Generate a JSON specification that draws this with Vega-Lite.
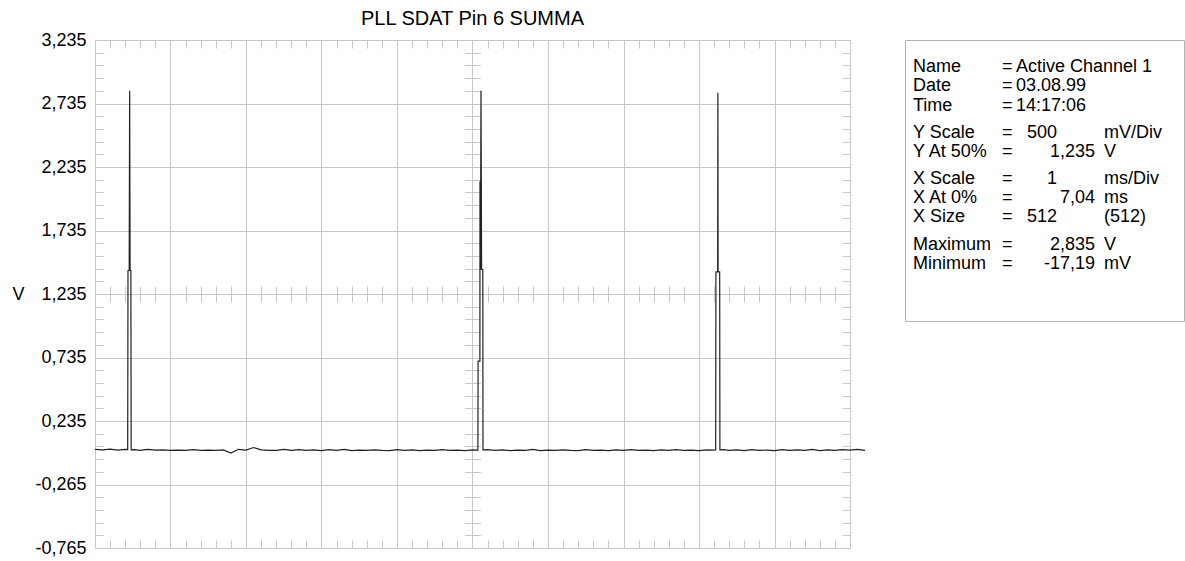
{
  "$schema": "https://vega.github.io/schema/vega-lite/v6.json",
  "background": "white",
  "padding": {"left": 11, "top": 8, "right": 0, "bottom": 0},
  "bounds": "flush",
  "spacing": 55,
  "config": {"font": "Liberation Sans"},
  "datasets": {
    "trace": [
      {"t": 7.04, "v": 0.012}, {"t": 7.14, "v": 0.008}, {"t": 7.24, "v": 0.014}, {"t": 7.34, "v": 0.006}, {"t": 7.44, "v": 0.012},
      {"t": 7.473, "v": 0.010}, {"t": 7.477, "v": 1.42}, {"t": 7.493, "v": 1.42}, {"t": 7.499, "v": 2.835}, {"t": 7.505, "v": 1.42}, {"t": 7.515, "v": 1.42}, {"t": 7.519, "v": 0.008},
      {"t": 7.56, "v": 0.010}, {"t": 7.64, "v": 0.004}, {"t": 7.74, "v": 0.012}, {"t": 7.84, "v": 0.006}, {"t": 7.94, "v": 0.008},
      {"t": 8.04, "v": 0.004}, {"t": 8.14, "v": 0.006}, {"t": 8.24, "v": 0.004}, {"t": 8.34, "v": 0.010}, {"t": 8.44, "v": 0.004},
      {"t": 8.54, "v": 0.006}, {"t": 8.64, "v": 0.004}, {"t": 8.74, "v": 0.008}, {"t": 8.84, "v": -0.017}, {"t": 8.94, "v": 0.012},
      {"t": 9.04, "v": 0.006}, {"t": 9.14, "v": 0.026}, {"t": 9.24, "v": 0.008}, {"t": 9.34, "v": 0.004}, {"t": 9.44, "v": 0.004},
      {"t": 9.54, "v": 0.012}, {"t": 9.64, "v": 0.004}, {"t": 9.74, "v": 0.010}, {"t": 9.84, "v": 0.004}, {"t": 9.94, "v": 0.008},
      {"t": 10.04, "v": 0.002}, {"t": 10.14, "v": 0.010}, {"t": 10.24, "v": 0.004}, {"t": 10.34, "v": 0.012}, {"t": 10.44, "v": 0.002},
      {"t": 10.54, "v": 0.006}, {"t": 10.64, "v": 0.004}, {"t": 10.74, "v": 0.008}, {"t": 10.84, "v": 0.004}, {"t": 10.94, "v": 0.002},
      {"t": 11.04, "v": 0.010}, {"t": 11.14, "v": 0.004}, {"t": 11.24, "v": 0.008}, {"t": 11.34, "v": 0.002}, {"t": 11.44, "v": 0.006},
      {"t": 11.54, "v": 0.004}, {"t": 11.64, "v": 0.010}, {"t": 11.74, "v": 0.004}, {"t": 11.84, "v": 0.006}, {"t": 11.94, "v": 0.002},
      {"t": 12.04, "v": 0.008},
      {"t": 12.1115, "v": 0.006}, {"t": 12.1141, "v": 0.706}, {"t": 12.1379, "v": 0.706}, {"t": 12.1393, "v": 2.123}, {"t": 12.1446, "v": 1.428},
      {"t": 12.1526, "v": 2.835}, {"t": 12.1605, "v": 1.428}, {"t": 12.1764, "v": 1.428}, {"t": 12.179, "v": 0.008},
      {"t": 12.24, "v": 0.010}, {"t": 12.34, "v": 0.004}, {"t": 12.44, "v": 0.008}, {"t": 12.54, "v": 0.002}, {"t": 12.64, "v": 0.006},
      {"t": 12.74, "v": 0.004}, {"t": 12.84, "v": 0.012}, {"t": 12.94, "v": 0.002}, {"t": 13.04, "v": 0.006}, {"t": 13.14, "v": 0.004},
      {"t": 13.24, "v": 0.008}, {"t": 13.34, "v": 0.004}, {"t": 13.44, "v": 0.002}, {"t": 13.54, "v": 0.010}, {"t": 13.64, "v": 0.004},
      {"t": 13.74, "v": 0.006}, {"t": 13.84, "v": 0.002}, {"t": 13.94, "v": 0.008}, {"t": 14.04, "v": 0.004}, {"t": 14.14, "v": 0.010},
      {"t": 14.24, "v": 0.004}, {"t": 14.34, "v": 0.006}, {"t": 14.44, "v": 0.002}, {"t": 14.54, "v": 0.008}, {"t": 14.64, "v": 0.004},
      {"t": 14.74, "v": 0.010}, {"t": 14.84, "v": 0.004}, {"t": 14.94, "v": 0.006}, {"t": 15.04, "v": 0.002}, {"t": 15.14, "v": 0.008},
      {"t": 15.22, "v": 0.006},
      {"t": 15.261, "v": 0.008}, {"t": 15.264, "v": 1.41}, {"t": 15.287, "v": 1.41}, {"t": 15.29, "v": 2.82}, {"t": 15.293, "v": 1.41}, {"t": 15.314, "v": 1.41}, {"t": 15.317, "v": 0.008},
      {"t": 15.36, "v": 0.010}, {"t": 15.44, "v": 0.004}, {"t": 15.54, "v": 0.008}, {"t": 15.64, "v": 0.002}, {"t": 15.74, "v": 0.010},
      {"t": 15.84, "v": 0.004}, {"t": 15.94, "v": 0.006}, {"t": 16.04, "v": 0.002}, {"t": 16.14, "v": 0.010}, {"t": 16.24, "v": 0.004},
      {"t": 16.34, "v": 0.008}, {"t": 16.44, "v": 0.004}, {"t": 16.54, "v": 0.012}, {"t": 16.64, "v": 0.002}, {"t": 16.74, "v": 0.008},
      {"t": 16.84, "v": 0.004}, {"t": 16.94, "v": 0.010}, {"t": 17.04, "v": 0.006}, {"t": 17.14, "v": 0.012}, {"t": 17.24, "v": 0.004}
    ],
    "info": [
      {"row": 1, "col": 0, "txt": "Name"}, {"row": 1, "col": 1, "txt": "="}, {"row": 1, "col": 2, "txt": "Active Channel 1"},
      {"row": 2, "col": 0, "txt": "Date"}, {"row": 2, "col": 1, "txt": "="}, {"row": 2, "col": 2, "txt": "03.08.99"},
      {"row": 3, "col": 0, "txt": "Time"}, {"row": 3, "col": 1, "txt": "="}, {"row": 3, "col": 2, "txt": "14:17:06"},
      {"row": 4, "col": 0, "txt": "Y Scale"}, {"row": 4, "col": 1, "txt": "="}, {"row": 4, "col": 3, "txt": "500"}, {"row": 4, "col": 5, "txt": "mV/Div"},
      {"row": 5, "col": 0, "txt": "Y At 50%"}, {"row": 5, "col": 1, "txt": "="}, {"row": 5, "col": 4, "txt": "1,235"}, {"row": 5, "col": 5, "txt": "V"},
      {"row": 6, "col": 0, "txt": "X Scale"}, {"row": 6, "col": 1, "txt": "="}, {"row": 6, "col": 3, "txt": "1"}, {"row": 6, "col": 5, "txt": "ms/Div"},
      {"row": 7, "col": 0, "txt": "X At 0%"}, {"row": 7, "col": 1, "txt": "="}, {"row": 7, "col": 4, "txt": "7,04"}, {"row": 7, "col": 5, "txt": "ms"},
      {"row": 8, "col": 0, "txt": "X Size"}, {"row": 8, "col": 1, "txt": "="}, {"row": 8, "col": 3, "txt": "512"}, {"row": 8, "col": 5, "txt": "(512)"},
      {"row": 9, "col": 0, "txt": "Maximum"}, {"row": 9, "col": 1, "txt": "="}, {"row": 9, "col": 4, "txt": "2,835"}, {"row": 9, "col": 5, "txt": "V"},
      {"row": 10, "col": 0, "txt": "Minimum"}, {"row": 10, "col": 1, "txt": "="}, {"row": 10, "col": 4, "txt": "-17,19"}, {"row": 10, "col": 5, "txt": "mV"}
    ]
  },
  "hconcat": [
    {
      "width": 755,
      "height": 508,
      "title": {"text": "PLL SDAT Pin 6 SUMMA", "fontSize": 20, "fontWeight": "normal", "color": "#000000", "font": "Liberation Sans", "offset": 2.5},
      "data": {"name": "trace"},
      "view": {"stroke": "#c8c8c8"},
      "resolve": {"axis": {"x": "independent", "y": "independent"}},
      "layer": [
        {
          "mark": {"type": "line", "color": "#222222", "strokeWidth": 1.2},
          "encoding": {
            "x": {
              "field": "t", "type": "quantitative",
              "scale": {"domain": [7.04, 17.04], "nice": false, "zero": false},
              "axis": {
                "orient": "bottom", "title": null, "labels": false, "domain": false,
                "values": [7.04,7.24,7.44,7.64,7.84,8.04,8.24,8.44,8.64,8.84,9.04,9.24,9.44,9.64,9.84,10.04,10.24,10.44,10.64,10.84,11.04,11.24,11.44,11.64,11.84,12.04,12.24,12.44,12.64,12.84,13.04,13.24,13.44,13.64,13.84,14.04,14.24,14.44,14.64,14.84,15.04,15.24,15.44,15.64,15.84,16.04,16.24,16.44,16.64,16.84,17.04],
                "ticks": true, "tickSize": -8, "tickColor": "#c8c8c8",
                "grid": true, "gridColor": "#c8c8c8",
                "gridOpacity": {"condition": {"test": "abs(datum.value - 7.04 - round(datum.value - 7.04)) < 0.001", "value": 1}, "value": 0}
              }
            },
            "y": {
              "field": "v", "type": "quantitative",
              "scale": {"domain": [-0.765, 3.235], "nice": false, "zero": false},
              "axis": {
                "orient": "left", "domain": false,
                "values": [-0.765,-0.665,-0.565,-0.465,-0.365,-0.265,-0.165,-0.065,0.035,0.135,0.235,0.335,0.435,0.535,0.635,0.735,0.835,0.935,1.035,1.135,1.235,1.335,1.435,1.535,1.635,1.735,1.835,1.935,2.035,2.135,2.235,2.335,2.435,2.535,2.635,2.735,2.835,2.935,3.035,3.135,3.235],
                "ticks": true, "tickSize": -8, "tickColor": "#c8c8c8",
                "grid": true, "gridColor": "#c8c8c8",
                "gridOpacity": {"condition": {"test": "abs((datum.value + 0.765) / 0.5 - round((datum.value + 0.765) / 0.5)) < 0.001", "value": 1}, "value": 0},
                "labelExpr": "abs((datum.value + 0.765) / 0.5 - round((datum.value + 0.765) / 0.5)) < 0.001 ? replace(replace(format(datum.value, '.3f'), '.', ','), '\u2212', '-') : ''",
                "labelFont": "Liberation Sans", "labelFontSize": 18, "labelColor": "#000000",
                "labelPadding": 17, "labelOverlap": false, "labelBound": false, "labelFlush": false,
                "title": "V", "titleAngle": 0, "titleAlign": "right", "titleBaseline": "middle",
                "titleFont": "Liberation Sans", "titleFontSize": 18, "titleFontWeight": "normal", "titleColor": "#000000",
                "titlePadding": 11
              }
            }
          }
        },
        {
          "mark": {"type": "line", "opacity": 0},
          "encoding": {
            "x": {
              "field": "t", "type": "quantitative",
              "scale": {"domain": [7.04, 17.04], "nice": false, "zero": false},
              "axis": {
                "orient": "top", "title": null, "labels": false, "domain": false, "grid": false,
                "values": [7.04,7.24,7.44,7.64,7.84,8.04,8.24,8.44,8.64,8.84,9.04,9.24,9.44,9.64,9.84,10.04,10.24,10.44,10.64,10.84,11.04,11.24,11.44,11.64,11.84,12.04,12.24,12.44,12.64,12.84,13.04,13.24,13.44,13.64,13.84,14.04,14.24,14.44,14.64,14.84,15.04,15.24,15.44,15.64,15.84,16.04,16.24,16.44,16.64,16.84,17.04],
                "ticks": true, "tickSize": -8, "tickColor": "#c8c8c8"
              }
            },
            "y": {
              "field": "v", "type": "quantitative",
              "scale": {"domain": [-0.765, 3.235], "nice": false, "zero": false},
              "axis": {
                "orient": "right", "title": null, "labels": false, "domain": false, "grid": false,
                "values": [-0.765,-0.665,-0.565,-0.465,-0.365,-0.265,-0.165,-0.065,0.035,0.135,0.235,0.335,0.435,0.535,0.635,0.735,0.835,0.935,1.035,1.135,1.235,1.335,1.435,1.535,1.635,1.735,1.835,1.935,2.035,2.135,2.235,2.335,2.435,2.535,2.635,2.735,2.835,2.935,3.035,3.135,3.235],
                "ticks": true, "tickSize": -8, "tickColor": "#c8c8c8"
              }
            }
          }
        },
        {
          "mark": {"type": "line", "opacity": 0},
          "encoding": {
            "x": {
              "field": "t", "type": "quantitative",
              "scale": {"domain": [7.04, 17.04], "nice": false, "zero": false},
              "axis": {
                "orient": "bottom", "offset": -262, "title": null, "labels": false, "domain": false, "grid": false,
                "values": [7.04,7.24,7.44,7.64,7.84,8.04,8.24,8.44,8.64,8.84,9.04,9.24,9.44,9.64,9.84,10.04,10.24,10.44,10.64,10.84,11.04,11.24,11.44,11.64,11.84,12.04,12.24,12.44,12.64,12.84,13.04,13.24,13.44,13.64,13.84,14.04,14.24,14.44,14.64,14.84,15.04,15.24,15.44,15.64,15.84,16.04,16.24,16.44,16.64,16.84,17.04],
                "ticks": true, "tickSize": 16, "tickColor": "#c8c8c8"
              }
            },
            "y": {
              "field": "v", "type": "quantitative",
              "scale": {"domain": [-0.765, 3.235], "nice": false, "zero": false},
              "axis": {
                "orient": "left", "offset": -385.5, "title": null, "labels": false, "domain": false, "grid": false,
                "values": [-0.765,-0.665,-0.565,-0.465,-0.365,-0.265,-0.165,-0.065,0.035,0.135,0.235,0.335,0.435,0.535,0.635,0.735,0.835,0.935,1.035,1.135,1.235,1.335,1.435,1.535,1.635,1.735,1.835,1.935,2.035,2.135,2.235,2.335,2.435,2.535,2.635,2.735,2.835,2.935,3.035,3.135,3.235],
                "ticks": true, "tickSize": 16, "tickColor": "#c8c8c8"
              }
            }
          }
        }
      ]
    },
    {
      "width": 279,
      "height": 281,
      "data": {"name": "info"},
      "view": {"stroke": "#b4b4b4"},
      "layer": [
        {
          "transform": [{"filter": "datum.col != 3 && datum.col != 4"}],
          "mark": {"type": "text", "align": "left", "baseline": "middle", "font": "Liberation Sans", "fontSize": 18, "color": "#000000"},
          "encoding": {
            "x": {"field": "col", "type": "quantitative", "scale": {"domain": [0, 1, 2, 3, 4, 5], "range": [8, 97, 111, 152, 190, 199]}, "axis": null},
            "y": {"field": "row", "type": "quantitative", "scale": {"domain": [1, 3, 4, 5, 6, 8, 9, 10], "range": [26.7, 66, 93, 111.7, 139, 176.7, 205, 224]}, "axis": null},
            "text": {"field": "txt"}
          }
        },
        {
          "transform": [{"filter": "datum.col == 3 || datum.col == 4"}],
          "mark": {"type": "text", "align": "right", "baseline": "middle", "font": "Liberation Sans", "fontSize": 18, "color": "#000000"},
          "encoding": {
            "x": {"field": "col", "type": "quantitative", "scale": {"domain": [0, 1, 2, 3, 4, 5], "range": [8, 97, 111, 152, 190, 199]}, "axis": null},
            "y": {"field": "row", "type": "quantitative", "scale": {"domain": [1, 3, 4, 5, 6, 8, 9, 10], "range": [26.7, 66, 93, 111.7, 139, 176.7, 205, 224]}, "axis": null},
            "text": {"field": "txt"}
          }
        }
      ]
    }
  ]
}
